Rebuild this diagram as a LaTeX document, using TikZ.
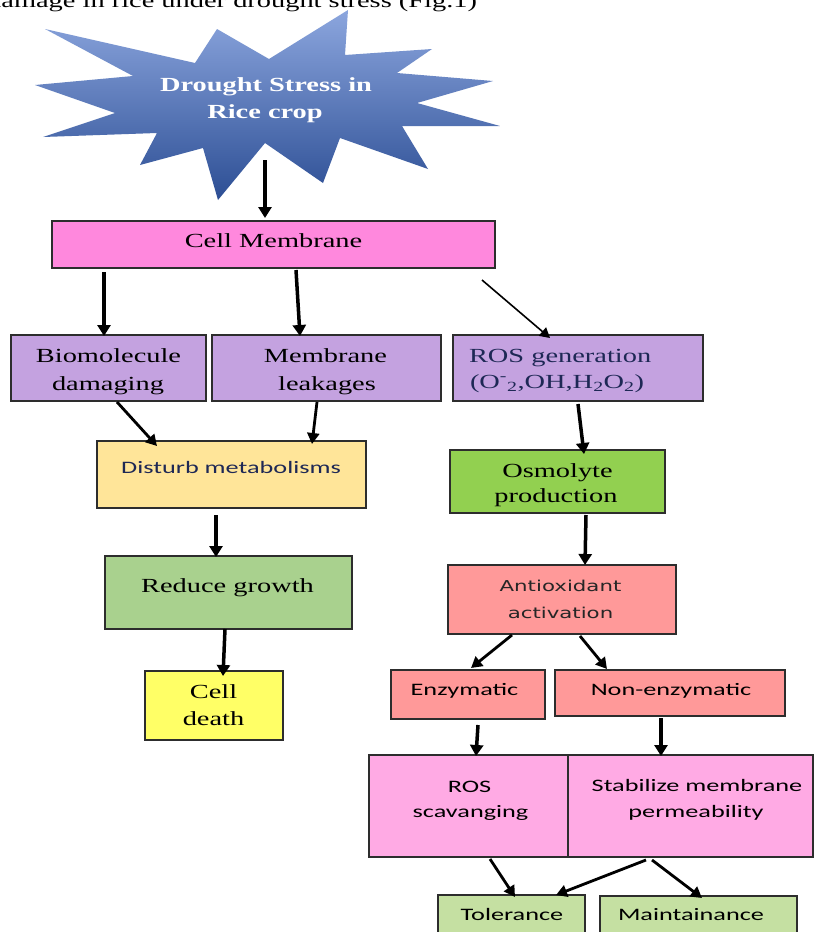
\documentclass[tikz,border=0pt]{standalone}
\usepackage{fontspec}
\setmainfont{Liberation Serif}[FakeStretch=1.42]
\newfontfamily\calfont{Carlito}[FakeStretch=1.5]
\newfontfamily\dvfont{DejaVu Sans}[FakeStretch=1.42]
\usetikzlibrary{arrows.meta,calc}
\newcommand\serfs{\fontsize{20}{24}\selectfont}
\newcommand\calfs{\calfont\fontsize{17.5}{21}\selectfont}
\newcommand\dvfs{\dvfont\fontsize{15}{18}\selectfont}
\definecolor{cmpink}{RGB}{255,136,221}
\definecolor{purp}{RGB}{196,162,224}
\definecolor{dist}{RGB}{255,229,153}
\definecolor{osmg}{RGB}{146,208,80}
\definecolor{redg}{RGB}{169,209,142}
\definecolor{yel}{RGB}{255,255,102}
\definecolor{salmon}{RGB}{255,153,153}
\definecolor{lpink}{RGB}{255,170,228}
\definecolor{lgreen}{RGB}{197,224,162}
\definecolor{bord}{RGB}{45,45,45}
\definecolor{startop}{RGB}{140,166,222}
\definecolor{starbot}{RGB}{44,78,148}
\definecolor{navy}{RGB}{30,40,85}
\tikzset{
  box/.style={draw=bord, line width=1.3pt, inner sep=0pt, outer sep=0pt, anchor=north west},
  txt/.style={anchor=base, inner sep=0pt, outer sep=0pt},
  arr/.style={line width=3.5pt, -{Triangle[width=13pt,length=11pt]}},
  arrd/.style={line width=2.8pt, -{Triangle[width=12pt,length=11pt]}},
  arrthin/.style={line width=1.6pt, -{Triangle[width=11pt,length=10pt]}}
}
\begin{document}
\begin{tikzpicture}[x=1pt,y=-1pt]
\useasboundingbox (0,0) rectangle (814,932);
\clip (0,0) rectangle (814,932);
\fill[white] (0,0) rectangle (814,932);

% cut-off caption line
\node[anchor=base west, inner sep=0pt, font=\serfs] (caption) at (-13,7) {damage in rice under drought stress (Fig.1)};

% star
\shade[top color=startop, bottom color=starbot]
  (45,29) -- (195,63) -- (217,29) -- (269,59) -- (348,10) -- (345,55)
  -- (432,49) -- (397,73) -- (493,81) -- (417,103) -- (500,126) -- (402,126)
  -- (428,169) -- (340,138) -- (323,183) -- (265,143) -- (218,200) -- (203,148)
  -- (140,165) -- (157,133) -- (43,137) -- (115,113) -- (35,85) -- (133,76) -- cycle;
\coordinate (star) at (265,160);
\node[txt, font=\serfs\bfseries, text=white] (st1) at (266,91) {Drought Stress in};
\node[txt, font=\serfs\bfseries, text=white] (st2) at (265,118) {Rice crop};

% boxes
\node[box, fill=cmpink, minimum width=443pt, minimum height=47pt] (cm) at (52,221) {};
\node[box, fill=purp, minimum width=195pt, minimum height=66pt] (bio) at (11,335) {};
\node[box, fill=purp, minimum width=229pt, minimum height=66pt] (mem) at (212,335) {};
\node[box, fill=purp, minimum width=250pt, minimum height=66pt] (ros) at (453,335) {};
\node[box, fill=dist, minimum width=269pt, minimum height=67pt] (dis) at (97,441) {};
\node[box, fill=osmg, minimum width=215pt, minimum height=63pt] (osm) at (450,450) {};
\node[box, fill=redg, minimum width=247pt, minimum height=73pt] (red) at (105,556) {};
\node[box, fill=yel, minimum width=138pt, minimum height=69pt] (death) at (145,671) {};
\node[box, fill=salmon, minimum width=228pt, minimum height=69pt] (anti) at (448,565) {};
\node[box, fill=salmon, minimum width=154pt, minimum height=49pt] (enz) at (391,670) {};
\node[box, fill=salmon, minimum width=230pt, minimum height=46pt] (nonenz) at (555,670) {};
\node[box, fill=lpink, minimum width=199pt, minimum height=102pt] (rsc) at (369,755) {};
\node[box, fill=lpink, minimum width=245pt, minimum height=102pt] (stab) at (568,755) {};
\node[box, fill=lgreen, minimum width=147pt, minimum height=45pt] (tol) at (438,895) {};
\node[box, fill=lgreen, minimum width=197pt, minimum height=45pt] (mai) at (600,896) {};

% texts
\node[txt, font=\serfs] (tcm) at (273.5,247) {Cell Membrane};
\node[txt, font=\serfs] (tbio1) at (108.5,362) {Biomolecule};
\node[txt, font=\serfs] (tbio2) at (108,390) {damaging};
\node[txt, font=\serfs] (tmem1) at (325.5,362) {Membrane};
\node[txt, font=\serfs] (tmem2) at (327,390) {leakages};
\node[txt, anchor=base west, font=\serfs, text=navy] (tros1) at (469,362) {ROS generation};
\node[txt, anchor=base west, font=\serfs, text=navy] (tros2) at (470,388) {(O\textsuperscript{-}\textsubscript{2},OH,H\textsubscript{2}O\textsubscript{2})};
\node[txt, font=\calfs, text=navy] (tdis) at (231,473) {Disturb metabolisms};
\node[txt, font=\serfs] (tosm1) at (557.5,477) {Osmolyte};
\node[txt, font=\serfs] (tosm2) at (556,502) {production};
\node[txt, font=\serfs] (tred) at (227.5,592) {Reduce growth};
\node[txt, font=\serfs] (tdeath1) at (213.5,698) {Cell};
\node[txt, font=\serfs] (tdeath2) at (213.5,725) {death};
\node[txt, font=\dvfs, text=black!85] (tanti1) at (560.5,591) {Antioxidant};
\node[txt, font=\dvfs, text=black!85] (tanti2) at (560.5,618) {activation};
\node[txt, font=\calfs] (tenz) at (464.5,695) {Enzymatic};
\node[txt, font=\calfs] (tnonenz) at (671,695) {Non-enzymatic};
\node[txt, font=\calfs] (trsc1) at (469.5,792) {ROS};
\node[txt, font=\calfs] (trsc2) at (470.5,817) {scavanging};
\node[txt, font=\calfs] (tstab1) at (697,791) {Stabilize membrane};
\node[txt, font=\calfs] (tstab2) at (696,817) {permeability};
\node[txt, font=\calfs] (ttol) at (512,920) {Tolerance};
\node[txt, font=\calfs] (tmai) at (691,920) {Maintainance};

% connectors
\draw[arr] (star) -- ($(cm.north west)+(213,-3)$);
\draw[arr] ($(cm.south west)+(52,4)$) -- ($(bio.north west)+(93,1)$);
\draw[arr] ($(cm.south west)+(244,2)$) -- ($(mem.north west)+(88,1)$);
\draw[arrthin] ($(cm.south east)+(-13,12)$) -- ($(ros.north west)+(97,3)$);
\draw[arrd] ($(bio.south west)+(106,1)$) -- ($(dis.north west)+(60,5)$);
\draw[arrd] ($(mem.south west)+(105,1)$) -- ($(dis.north west)+(215,3)$);
\draw[arr] ($(ros.south west)+(125,3)$) -- ($(osm.north west)+(134,4)$);
\draw[arr] ($(dis.south west)+(119,7)$) -- ($(red.north west)+(111,1)$);
\draw[arr] ($(red.south west)+(120,0)$) -- ($(death.north west)+(78,5)$);
\draw[arr] ($(osm.south west)+(136,2)$) -- ($(anti.north west)+(137,0)$);
\draw[arrd] ($(anti.south west)+(64,1)$) -- ($(enz.north west)+(80,-2)$);
\draw[arrd] ($(anti.south west)+(132,2)$) -- ($(nonenz.north west)+(52,-1)$);
\draw[arr] ($(enz.south west)+(87,6)$) -- ($(rsc.north west)+(107,1)$);
\draw[arr] ($(nonenz.south west)+(106,2)$) -- ($(stab.north west)+(93,1)$);
\draw[arrd] ($(rsc.south west)+(121,2)$) -- ($(tol.north west)+(77,2)$);
\draw[arrd] ($(stab.south west)+(78,3)$) -- ($(tol.north west)+(118,0)$);
\draw[arrd] ($(stab.south west)+(84,3)$) -- ($(mai.north west)+(102,2)$);
\end{tikzpicture}
\end{document}
